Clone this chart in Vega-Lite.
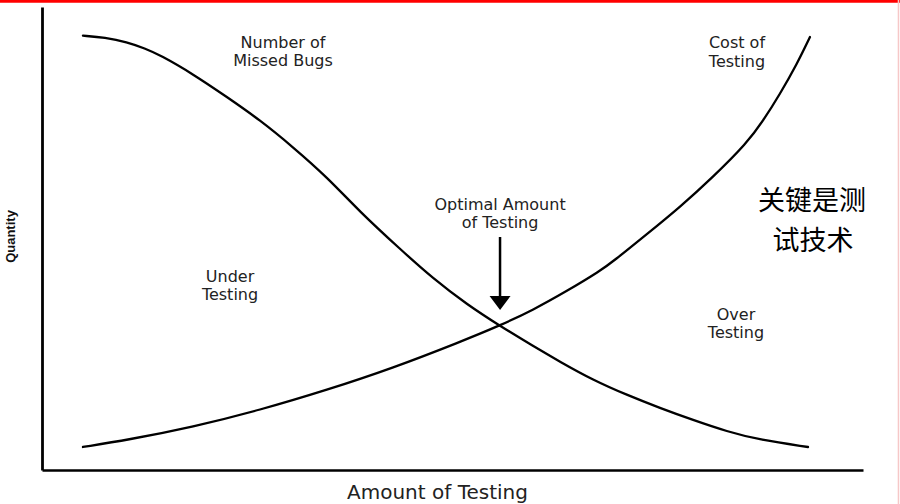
{
  "$schema": "https://vega.github.io/schema/vega-lite/v6.json",
  "width": 821,
  "height": 463,
  "autosize": {"type": "none"},
  "padding": {"left": 42, "top": 7, "right": 37, "bottom": 34},
  "background": "white",
  "config": {"view": {"stroke": null}},
  "datasets": {
    "curves": [
      {"series": "Number of Missed Bugs", "amount": 4.99, "quantity": 93.8},
      {"series": "Number of Missed Bugs", "amount": 7.67, "quantity": 93.41},
      {"series": "Number of Missed Bugs", "amount": 10.35, "quantity": 92.44},
      {"series": "Number of Missed Bugs", "amount": 12.55, "quantity": 91.04},
      {"series": "Number of Missed Bugs", "amount": 14.37, "quantity": 89.63},
      {"series": "Number of Missed Bugs", "amount": 18.39, "quantity": 85.53},
      {"series": "Number of Missed Bugs", "amount": 22.53, "quantity": 80.56},
      {"series": "Number of Missed Bugs", "amount": 26.55, "quantity": 75.59},
      {"series": "Number of Missed Bugs", "amount": 30.57, "quantity": 69.76},
      {"series": "Number of Missed Bugs", "amount": 34.71, "quantity": 63.28},
      {"series": "Number of Missed Bugs", "amount": 38.73, "quantity": 55.72},
      {"series": "Number of Missed Bugs", "amount": 43.61, "quantity": 47.73},
      {"series": "Number of Missed Bugs", "amount": 47.62, "quantity": 41.36},
      {"series": "Number of Missed Bugs", "amount": 51.77, "quantity": 35.75},
      {"series": "Number of Missed Bugs", "amount": 55.79, "quantity": 31.1},
      {"series": "Number of Missed Bugs", "amount": 59.81, "quantity": 26.78},
      {"series": "Number of Missed Bugs", "amount": 63.09, "quantity": 23.39},
      {"series": "Number of Missed Bugs", "amount": 67.11, "quantity": 19.44},
      {"series": "Number of Missed Bugs", "amount": 71.25, "quantity": 16.2},
      {"series": "Number of Missed Bugs", "amount": 75.27, "quantity": 13.39},
      {"series": "Number of Missed Bugs", "amount": 79.29, "quantity": 10.8},
      {"series": "Number of Missed Bugs", "amount": 83.43, "quantity": 8.32},
      {"series": "Number of Missed Bugs", "amount": 87.45, "quantity": 6.48},
      {"series": "Number of Missed Bugs", "amount": 93.3, "quantity": 4.97},
      {"series": "Cost of Testing", "amount": 4.99, "quantity": 4.97},
      {"series": "Cost of Testing", "amount": 10.35, "quantity": 6.48},
      {"series": "Cost of Testing", "amount": 18.39, "quantity": 9.29},
      {"series": "Cost of Testing", "amount": 26.55, "quantity": 12.96},
      {"series": "Cost of Testing", "amount": 34.71, "quantity": 17.28},
      {"series": "Cost of Testing", "amount": 42.75, "quantity": 22.03},
      {"series": "Cost of Testing", "amount": 50.91, "quantity": 27.65},
      {"series": "Cost of Testing", "amount": 55.79, "quantity": 31.21},
      {"series": "Cost of Testing", "amount": 59.81, "quantity": 34.56},
      {"series": "Cost of Testing", "amount": 63.95, "quantity": 38.66},
      {"series": "Cost of Testing", "amount": 67.97, "quantity": 42.98},
      {"series": "Cost of Testing", "amount": 69.55, "quantity": 45.03},
      {"series": "Cost of Testing", "amount": 73.69, "quantity": 50.97},
      {"series": "Cost of Testing", "amount": 77.71, "quantity": 56.8},
      {"series": "Cost of Testing", "amount": 81.73, "quantity": 63.28},
      {"series": "Cost of Testing", "amount": 85.87, "quantity": 70.63},
      {"series": "Cost of Testing", "amount": 87.82, "quantity": 75.38},
      {"series": "Cost of Testing", "amount": 89.89, "quantity": 81.21},
      {"series": "Cost of Testing", "amount": 91.96, "quantity": 87.69},
      {"series": "Cost of Testing", "amount": 93.54, "quantity": 93.52}
    ],
    "labels": [
      {"text": "Number of", "amount": 29.35, "quantity": 92.22},
      {"text": "Missed Bugs", "amount": 29.35, "quantity": 88.34},
      {"text": "Cost of", "amount": 84.65, "quantity": 92.22},
      {"text": "Testing", "amount": 84.65, "quantity": 88.12},
      {"text": "Optimal Amount", "amount": 55.79, "quantity": 57.24},
      {"text": "of Testing", "amount": 55.79, "quantity": 53.35},
      {"text": "Under", "amount": 22.9, "quantity": 41.68},
      {"text": "Testing", "amount": 22.9, "quantity": 37.8},
      {"text": "Over", "amount": 84.53, "quantity": 33.48},
      {"text": "Testing", "amount": 84.53, "quantity": 29.59}
    ],
    "cjk": [
      {"text": "关键是测", "amount": 93.79, "quantity": 57.88},
      {"text": "试技术", "amount": 93.91, "quantity": 49.14}
    ],
    "arrow": [
      {"amount": 55.79, "top": 50.32, "bottom": 37.15, "tip": 36.07}
    ],
    "frame": [
      {"edge": "top", "x1": -5.12, "x2": 104.5, "y1": 101.23, "y2": 101.23},
      {"edge": "right", "x1": 104.32, "x2": 104.32, "y1": 101.6, "y2": -7.4}
    ]
  },
  "layer": [
    {
      "data": {"name": "curves"},
      "mark": {"type": "line", "interpolate": "basis", "strokeWidth": 2.3, "color": "black", "strokeCap": "round"},
      "encoding": {
        "x": {
          "field": "amount", "type": "quantitative",
          "scale": {"domain": [0, 100], "nice": false, "zero": false},
          "axis": {
            "title": "Amount of Testing", "domain": true, "domainColor": "black", "domainWidth": 2.5,
            "ticks": false, "labels": false, "grid": false,
            "titleFont": "DejaVu Sans", "titleFontSize": 20, "titleFontWeight": "normal", "titleColor": "#222",
            "titleX": 395, "titleY": 22, "titleBaseline": "middle", "titleAlign": "center"
          }
        },
        "y": {
          "field": "quantity", "type": "quantitative",
          "scale": {"domain": [0, 100], "nice": false, "zero": false},
          "axis": {
            "title": "Quantity", "domain": true, "domainColor": "black", "domainWidth": 2.8,
            "ticks": false, "labels": false, "grid": false,
            "titleFont": "Liberation Sans", "titleFontSize": 13, "titleFontWeight": "bold", "titleColor": "#111",
            "titleX": -32, "titleY": 229, "titleAngle": -90, "titleBaseline": "middle", "titleAlign": "center"
          }
        },
        "detail": {"field": "series", "type": "nominal"}
      }
    },
    {
      "data": {"name": "arrow"},
      "mark": {"type": "rule", "strokeWidth": 2.5, "color": "black"},
      "encoding": {
        "x": {"field": "amount", "type": "quantitative"},
        "y": {"field": "top", "type": "quantitative"},
        "y2": {"field": "bottom"}
      }
    },
    {
      "data": {"name": "arrow"},
      "mark": {"type": "point", "shape": "M-1,-0.67L1,-0.67L0,0.67Z", "filled": true, "color": "black", "opacity": 1, "size": 441},
      "encoding": {
        "x": {"field": "amount", "type": "quantitative"},
        "y": {"field": "tip", "type": "quantitative"}
      }
    },
    {
      "data": {"name": "labels"},
      "mark": {"type": "text", "font": "DejaVu Sans", "fontSize": 16, "color": "#222", "align": "center", "baseline": "middle"},
      "encoding": {
        "x": {"field": "amount", "type": "quantitative"},
        "y": {"field": "quantity", "type": "quantitative"},
        "text": {"field": "text", "type": "nominal"}
      }
    },
    {
      "data": {"name": "cjk"},
      "mark": {"type": "text", "font": "Noto Sans CJK SC", "fontSize": 27, "color": "black", "align": "center", "baseline": "middle"},
      "encoding": {
        "x": {"field": "amount", "type": "quantitative"},
        "y": {"field": "quantity", "type": "quantitative"},
        "text": {"field": "text", "type": "nominal"}
      }
    },
    {
      "data": {"name": "frame"},
      "transform": [{"filter": "datum.edge === 'top'"}],
      "mark": {"type": "rule", "strokeWidth": 3, "color": "#ff0000"},
      "encoding": {
        "x": {"field": "x1", "type": "quantitative"},
        "x2": {"field": "x2"},
        "y": {"field": "y1", "type": "quantitative"}
      }
    },
    {
      "data": {"name": "frame"},
      "transform": [{"filter": "datum.edge === 'right'"}],
      "mark": {"type": "rule", "strokeWidth": 1.5, "color": "#f6c8c8"},
      "encoding": {
        "x": {"field": "x1", "type": "quantitative"},
        "y": {"field": "y1", "type": "quantitative"},
        "y2": {"field": "y2"}
      }
    }
  ]
}
